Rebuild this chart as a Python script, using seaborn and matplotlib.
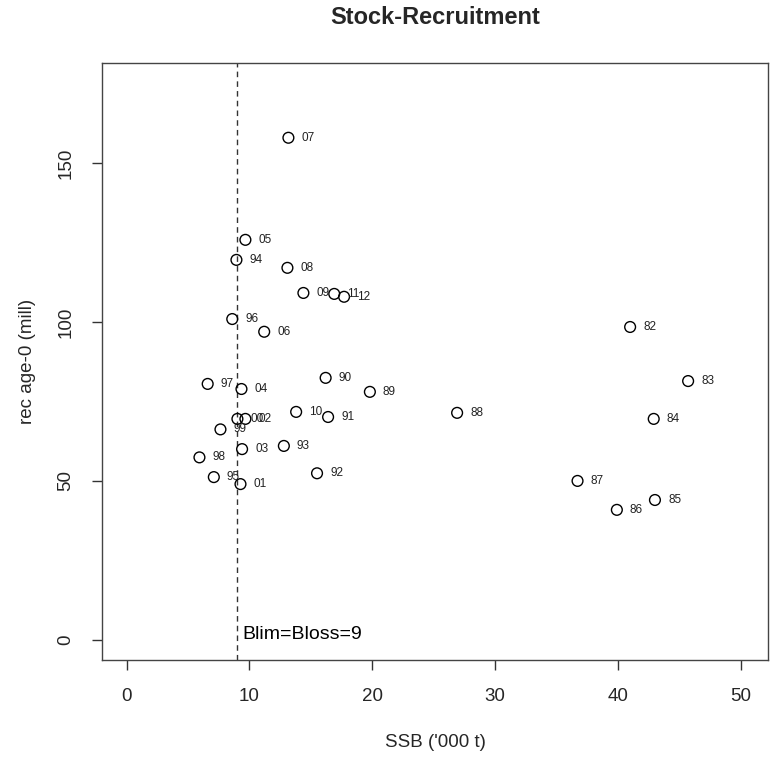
import matplotlib
matplotlib.use("Agg")
import matplotlib.pyplot as plt
import seaborn as sns
import pandas as pd

years = ["82", "83", "84", "85", "86", "87", "88", "89", "90", "91", "92", "93",
         "94", "95", "96", "97", "98", "99", "00", "01", "02", "03", "04", "05",
         "06", "07", "08", "09", "10", "11", "12"]
ssb = [40.98, 45.7, 42.9, 43.0, 39.9, 36.7, 26.9, 19.8, 16.2, 16.4, 15.5, 12.8,
       8.94, 7.1, 8.6, 6.6, 5.93, 7.64, 9.02, 9.27, 9.67, 9.4, 9.35, 9.67,
       11.2, 13.17, 13.09, 14.39, 13.8, 16.9, 17.7]
rec = [98.4, 81.4, 69.5, 44.0, 40.9, 50.0, 71.4, 78.0, 82.4, 70.1, 52.4, 61.0,
       119.5, 51.2, 100.9, 80.5, 57.4, 66.2, 69.5, 49.0, 69.5, 60.0, 78.9, 125.8,
       96.9, 157.9, 117.0, 109.1, 71.7, 108.8, 107.9]
blim = 9
xticks = [0, 10, 20, 30, 40, 50]
yticks = [0, 50, 100, 150]

df = pd.DataFrame({"year": years, "ssb": ssb, "rec": rec})

sns.set_style("white")
plt.rcParams["font.family"] = ["Liberation Sans", "DejaVu Sans"]

fig = plt.figure(figsize=(7.71, 7.62), dpi=100)
ax = fig.add_axes([0.1323, 0.1339, 0.8638, 0.7834])

sns.scatterplot(data=df, x="ssb", y="rec", ax=ax, s=60, facecolors="none",
                edgecolor="black", linewidth=1.0, legend=False, zorder=3)

for yr, xv, yv in zip(years, ssb, rec):
    ax.annotate(yr, (xv, yv), xytext=(9.4, 0), textcoords="offset points",
                ha="left", va="center", fontsize=8.5, color="#222222")

ax.axvline(blim, color="#333333", linestyle=(0, (4, 3)), linewidth=1.0)
ax.annotate("Blim=Bloss=9", (blim, 0), xytext=(4.0, 3.6),
            textcoords="offset points", ha="left", va="center",
            fontsize=14, color="black")

ax.set_xlim(-2.0, 52.2)
ax.set_ylim(-6.3, 181.4)
ax.set_xticks(xticks)
ax.set_yticks(yticks)
ax.set_yticklabels([str(v) for v in yticks], rotation=90, va="center")
ax.tick_params(axis="both", direction="out", length=7, width=1,
               labelsize=13.5, color="#333333", pad=13, left=True, bottom=True)

for sp in ax.spines.values():
    sp.set_color("#444444")
    sp.set_linewidth(1.0)

ax.set_xlabel("SSB ('000 t)", fontsize=13.5, labelpad=21)
ax.set_ylabel("rec age-0 (mill)", fontsize=13.5, labelpad=15)
ax.set_title("Stock-Recruitment", fontsize=17, fontweight="bold", pad=28)

fig.savefig("out.png", dpi=100)
